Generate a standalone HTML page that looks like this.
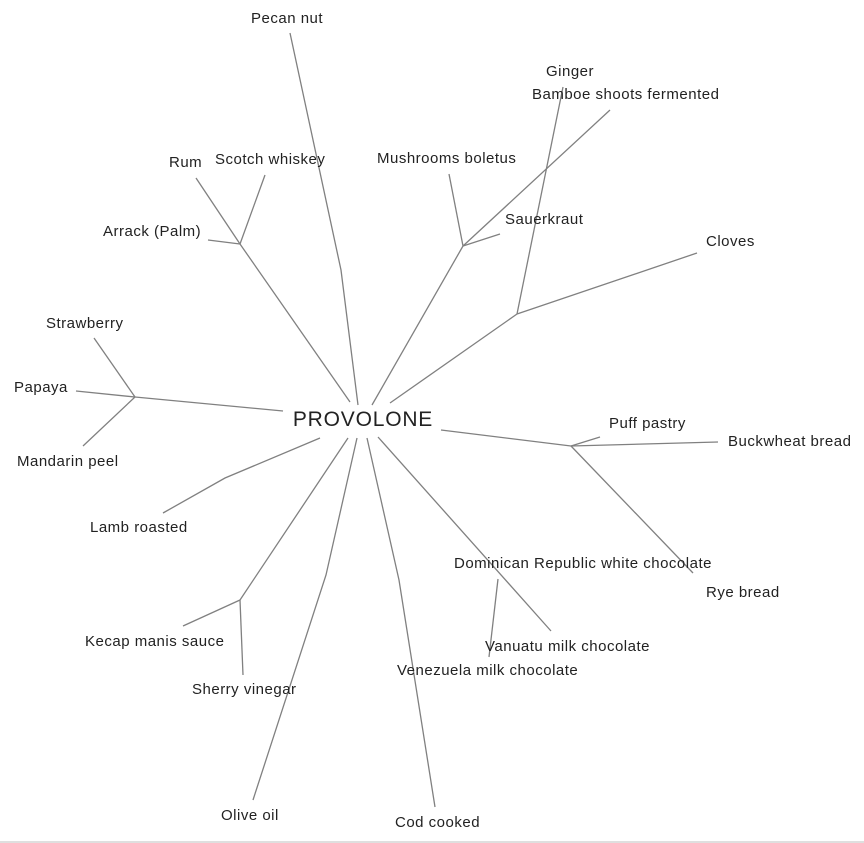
<!DOCTYPE html>
<html><head><meta charset="utf-8"><style>
html,body{margin:0;padding:0;background:#fff;}
svg{display:block;}
text{font-family:"Liberation Sans",Arial,sans-serif;font-size:15px;letter-spacing:0.5px;fill:#222;}
line,polyline{stroke:#808080;stroke-width:1.3;fill:none;}
</style></head><body>
<svg width="864" height="843" viewBox="0 0 864 843">
<polyline points="358,405 341,270 290,33"/>
<line x1="350" y1="402" x2="240" y2="244"/>
<line x1="240" y1="244" x2="196" y2="178"/>
<line x1="240" y1="244" x2="265" y2="175"/>
<line x1="240" y1="244" x2="208" y2="240"/>
<line x1="372" y1="405" x2="463" y2="246"/>
<line x1="463" y1="246" x2="449" y2="174"/>
<line x1="463" y1="246" x2="500" y2="234"/>
<line x1="463" y1="246" x2="610" y2="110"/>
<line x1="390" y1="403" x2="517" y2="314"/>
<line x1="517" y1="314" x2="697" y2="253"/>
<line x1="517" y1="314" x2="563" y2="87"/>
<line x1="283" y1="411" x2="135" y2="397"/>
<line x1="135" y1="397" x2="94" y2="338"/>
<line x1="135" y1="397" x2="76" y2="391"/>
<line x1="135" y1="397" x2="83" y2="446"/>
<polyline points="320,438 225,478 163,513"/>
<line x1="348" y1="438" x2="240" y2="600"/>
<line x1="240" y1="600" x2="183" y2="626"/>
<line x1="240" y1="600" x2="243" y2="675"/>
<polyline points="357,438 326,575 253,800"/>
<polyline points="367,438 399,580 435,807"/>
<line x1="378" y1="437" x2="551" y2="631"/>
<line x1="498" y1="579" x2="489" y2="657"/>
<line x1="441" y1="430" x2="571" y2="446"/>
<line x1="571" y1="446" x2="600" y2="437"/>
<line x1="571" y1="446" x2="718" y2="442"/>
<line x1="571" y1="446" x2="693" y2="573"/>
<text x="363" y="426" text-anchor="middle" style="font-size:21px;letter-spacing:0.8px">PROVOLONE</text>
<text x="251" y="23">Pecan nut</text>
<text x="169" y="167">Rum</text>
<text x="215" y="164">Scotch whiskey</text>
<text x="103" y="236">Arrack (Palm)</text>
<text x="377" y="163">Mushrooms boletus</text>
<text x="505" y="224">Sauerkraut</text>
<text x="546" y="76">Ginger</text>
<text x="532" y="99">Bamboe shoots fermented</text>
<text x="706" y="246">Cloves</text>
<text x="46" y="328">Strawberry</text>
<text x="14" y="392">Papaya</text>
<text x="17" y="466">Mandarin peel</text>
<text x="90" y="532">Lamb roasted</text>
<text x="85" y="646">Kecap manis sauce</text>
<text x="192" y="694">Sherry vinegar</text>
<text x="221" y="820">Olive oil</text>
<text x="395" y="827">Cod cooked</text>
<text x="454" y="568">Dominican Republic white chocolate</text>
<text x="485" y="651">Vanuatu milk chocolate</text>
<text x="397" y="675">Venezuela milk chocolate</text>
<text x="609" y="428">Puff pastry</text>
<text x="728" y="446">Buckwheat bread</text>
<text x="706" y="597">Rye bread</text>
<line x1="0" y1="842" x2="864" y2="842" style="stroke:#ccc"/>
</svg>
</body></html>
